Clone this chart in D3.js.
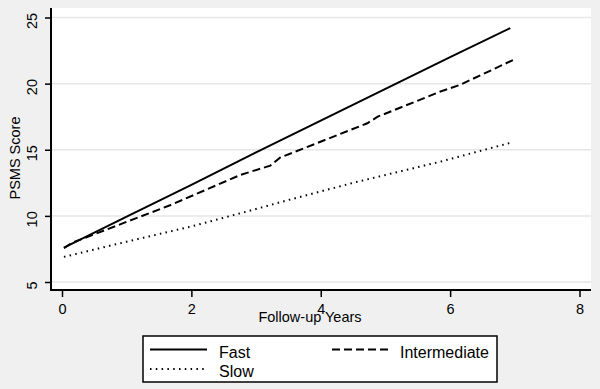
<!DOCTYPE html>
<html>
<head>
<meta charset="utf-8">
<script src="https://cdn.jsdelivr.net/npm/d3@7"></script>
<style>
  body { margin: 0; background: #f0f0f0; }
  text { font-family: "Liberation Sans", Arial, sans-serif; fill: #000; }
</style>
</head>
<body>
<svg id="chart" width="600" height="389"></svg>
<script>
// Data: [follow-up years, PSMS score]
const fast = [[0.03, 7.6], [1, 9.95], [2, 12.35], [3, 14.8], [4, 17.2], [5, 19.6], [6, 22.0], [6.93, 24.2]];
const intermediate = [[0.03, 7.55], [0.15, 7.95], [1.0, 9.55], [1.67, 10.8], [2.76, 13.1], [3.22, 13.8],
    [3.37, 14.4], [4.72, 17.0], [4.88, 17.5], [5.85, 19.4], [6.15, 19.9], [6.98, 21.8]];
const slow = [[0.03, 6.9], [1.0, 8.05], [2.0, 9.2], [2.76, 10.2], [3.5, 11.2], [4.5, 12.5], [5.85, 14.1], [6.95, 15.55]];

const xTicks = [0, 2, 4, 6, 8];
const yTicks = [5, 10, 15, 20, 25];
const seriesNames = ["Fast", "Intermediate", "Slow"];

const svg = d3.select("#chart");

// Plot region
const plot = { left: 51, right: 591, top: 8, bottom: 290 };

const x = d3.scaleLinear().domain([0, 8]).range([62, 579.5]);
const y = d3.scaleLinear().domain([5, 25]).range([282, 17.5]);

// White plot background
svg.append("rect")
    .attr("x", plot.left)
    .attr("y", plot.top)
    .attr("width", plot.right - plot.left)
    .attr("height", plot.bottom - plot.top)
    .attr("fill", "#fff");

// Horizontal gridlines
svg.selectAll(".grid")
    .data(yTicks)
    .enter().append("line")
    .attr("class", "grid")
    .attr("x1", plot.left)
    .attr("x2", plot.right)
    .attr("y1", d => y(d))
    .attr("y2", d => y(d))
    .attr("stroke", "#e6e6e6")
    .attr("stroke-width", 1.5);

// Y axis
const yAxis = svg.append("g")
    .attr("transform", "translate(" + plot.left + ",0)")
    .call(d3.axisLeft(y).tickValues(yTicks).tickSize(6).tickPadding(9));
yAxis.select(".domain").remove();
yAxis.selectAll(".tick line").attr("stroke", "#000").attr("stroke-width", 1.5);
yAxis.selectAll(".tick text")
    .attr("font-size", "14.5px")
    .attr("text-anchor", "middle")
    .attr("dy", null)
    .attr("x", null)
    .attr("transform", "translate(-14,3) rotate(-90)")
    .attr("y", 0);

// X axis
const xAxis = svg.append("g")
    .attr("transform", "translate(0," + plot.bottom + ")")
    .call(d3.axisBottom(x).tickValues(xTicks).tickSize(7).tickPadding(7));
xAxis.select(".domain").remove();
xAxis.selectAll(".tick line").attr("stroke", "#000").attr("stroke-width", 1.5);
xAxis.selectAll(".tick text").attr("font-size", "14.5px");

// Axis lines
svg.append("line")
    .attr("x1", plot.left).attr("x2", plot.left)
    .attr("y1", plot.top).attr("y2", plot.bottom + 1)
    .attr("stroke", "#000").attr("stroke-width", 2);
svg.append("line")
    .attr("x1", plot.left).attr("x2", plot.right)
    .attr("y1", plot.bottom).attr("y2", plot.bottom)
    .attr("stroke", "#000").attr("stroke-width", 2);

// Axis titles
svg.append("text")
    .attr("x", 310)
    .attr("y", 322)
    .attr("text-anchor", "middle")
    .attr("font-size", "14.5px")
    .text("Follow-up Years");

svg.append("text")
    .attr("transform", "translate(20,158) rotate(-90)")
    .attr("text-anchor", "middle")
    .attr("font-size", "14.5px")
    .text("PSMS Score");

// Series lines
const dashes = { "Fast": null, "Intermediate": "8,4", "Slow": "1.5,4.3" };
const line = d3.line().x(d => x(d[0])).y(d => y(d[1]));

[fast, intermediate, slow].forEach(function (data, i) {
    svg.append("path")
        .datum(data)
        .attr("d", line)
        .attr("fill", "none")
        .attr("stroke", "#000")
        .attr("stroke-width", 2)
        .attr("stroke-dasharray", dashes[seriesNames[i]]);
});

// Legend
const legend = svg.append("g");
legend.append("rect")
    .attr("x", 143).attr("y", 336)
    .attr("width", 354).attr("height", 46)
    .attr("fill", "#fff")
    .attr("stroke", "#000")
    .attr("stroke-width", 1.5);

const legendItems = [
    { name: "Fast", lx: 150, ly: 349.5, tx: 219, ty: 358 },
    { name: "Intermediate", lx: 332, ly: 349.5, tx: 400, ty: 358 },
    { name: "Slow", lx: 150, ly: 369, tx: 219, ty: 377 }
];

legendItems.forEach(function (d) {
    legend.append("line")
        .attr("x1", d.lx).attr("x2", d.lx + 57)
        .attr("y1", d.ly).attr("y2", d.ly)
        .attr("stroke", "#000")
        .attr("stroke-width", 2)
        .attr("stroke-dasharray", dashes[d.name]);
    legend.append("text")
        .attr("x", d.tx).attr("y", d.ty)
        .attr("font-size", "16px")
        .text(d.name);
});
</script>
</body>
</html>
